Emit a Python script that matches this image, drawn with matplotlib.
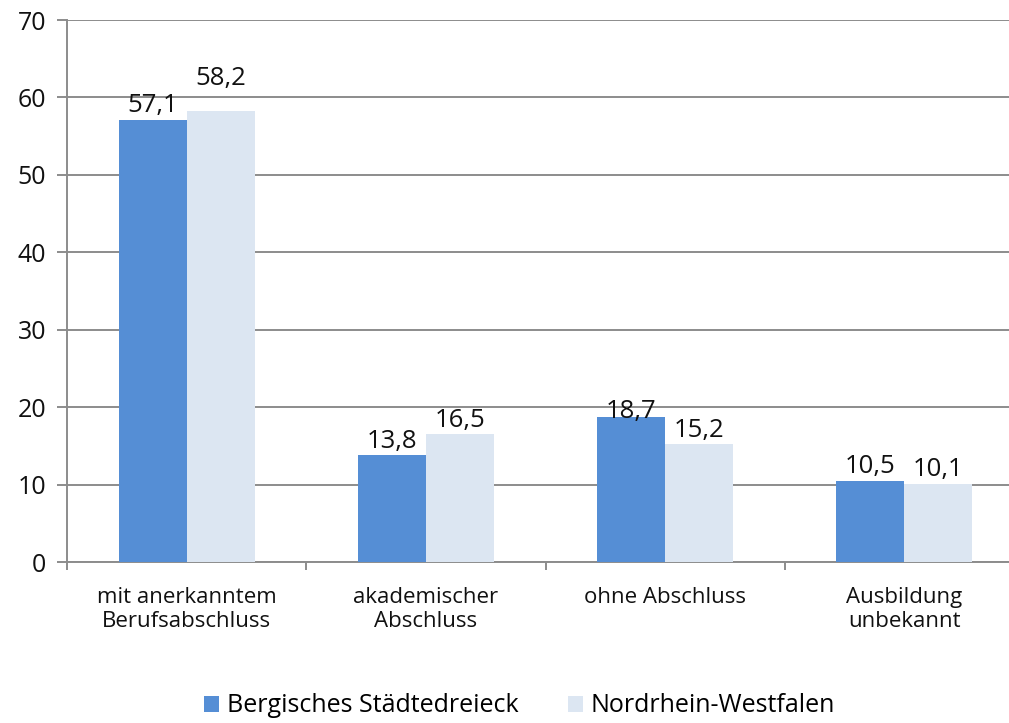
import matplotlib
matplotlib.use("Agg")
import matplotlib.pyplot as plt
import numpy as np

categories = ["mit anerkanntem\nBerufsabschluss", "akademischer\nAbschluss",
              "ohne Abschluss", "Ausbildung\nunbekannt"]
series_names = ["Bergisches Städtedreieck", "Nordrhein-Westfalen"]
bergisch = [57.1, 13.8, 18.7, 10.5]
nrw = [58.2, 16.5, 15.2, 10.1]
y_ticks = [0, 10, 20, 30, 40, 50, 60, 70]

plt.rcParams['font.family'] = ['Open Sans', 'DejaVu Sans']

fig = plt.figure(figsize=(10.09, 7.23), dpi=100)
W, H = 1009, 723
left, right, top, bottom = 67, 1024, 20, 562
ax = fig.add_axes([left / W, 1 - bottom / H, (right - left) / W, (bottom - top) / H])

x = np.arange(len(categories))
bw = 0.284
grid_col = "#8c8c8c"
c1 = "#558ed5"
c2 = "#dce6f2"

ax.bar(x - bw / 2, bergisch, bw, color=c1, label=series_names[0], zorder=3)
ax.bar(x + bw / 2, nrw, bw, color=c2, label=series_names[1], zorder=3)

def fmt(v):
    return ("%.1f" % v).replace(".", ",")

# label offsets in points (the original had a couple of labels nudged by hand)
off1 = [0, 0, -6, 0]
off2 = [14, 0, 0, 0]
for xi, v, o in zip(x - bw / 2, bergisch, off1):
    ax.annotate(fmt(v), (xi, v), xytext=(0, 1 + o), textcoords="offset points",
                ha="center", va="bottom", fontsize=18.5, color="#111111", zorder=4)
for xi, v, o in zip(x + bw / 2, nrw, off2):
    ax.annotate(fmt(v), (xi, v), xytext=(0, 1 + o), textcoords="offset points",
                ha="center", va="bottom", fontsize=18.5, color="#111111", zorder=4)

ax.set_xlim(-0.5, len(categories) - 0.5)
ax.set_ylim(0, 70)
ax.set_yticks(y_ticks)
ax.set_yticklabels([str(t) for t in y_ticks], fontsize=18, color="#111111")
ax.yaxis.grid(True, color=grid_col, linewidth=1.4, zorder=0)
ax.set_axisbelow(True)

ax.set_xticks(x)
ax.set_xticklabels(categories, fontsize=16, color="#111111", linespacing=1.2)
ax.tick_params(axis="x", length=0, pad=18)
ax.set_xticks(np.arange(-0.5, len(categories) + 0.5, 1), minor=True)
ax.tick_params(axis="x", which="minor", length=6, width=1.4, color=grid_col)
ax.tick_params(axis="y", length=7, width=1.4, color=grid_col, pad=8)

for s in ["top", "right"]:
    ax.spines[s].set_visible(False)
for s in ["left", "bottom"]:
    ax.spines[s].set_color(grid_col)
    ax.spines[s].set_linewidth(1.4)

fig.legend(loc="center", bbox_to_anchor=(0.515, 1 - 706 / H), ncol=2, frameon=False,
           fontsize=18, handlelength=0.6, handleheight=0.6, handletextpad=0.3,
           columnspacing=2.0)

fig.savefig("out.png", dpi=100)
